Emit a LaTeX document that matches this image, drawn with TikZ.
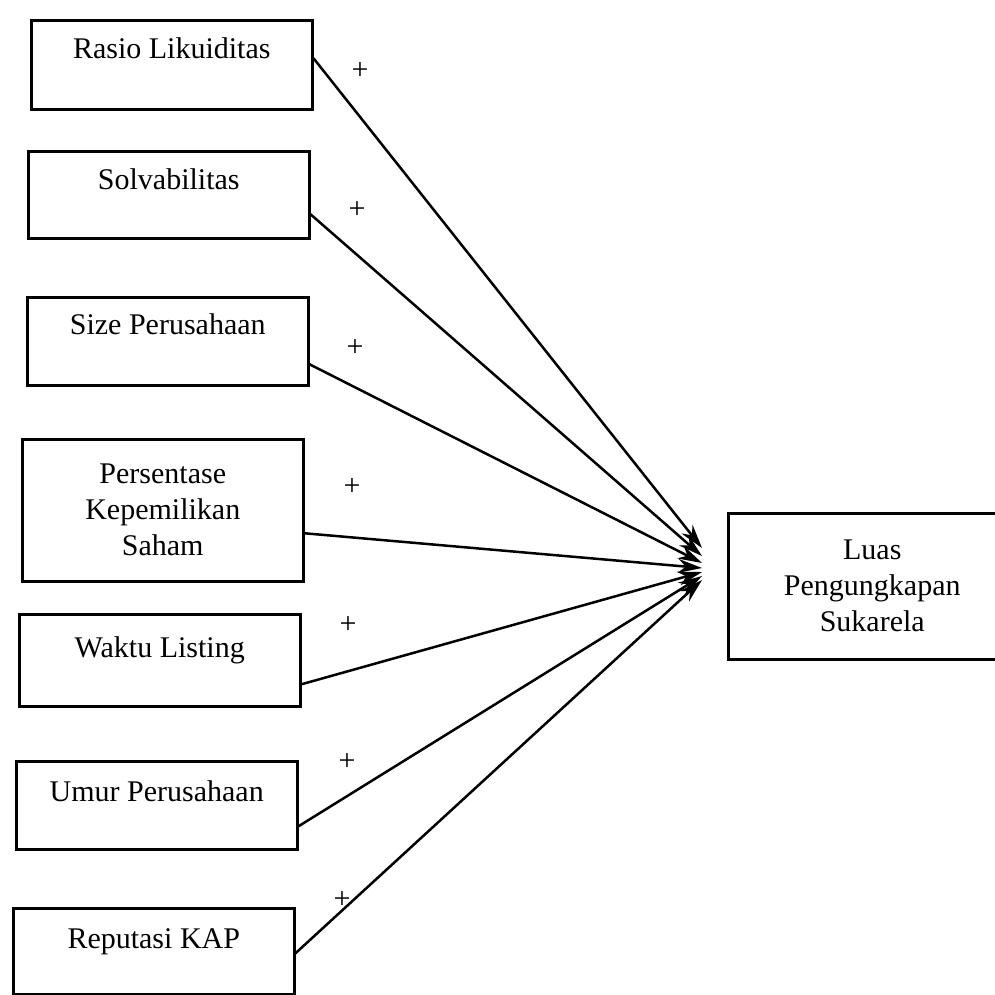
\documentclass[tikz,border=0pt]{standalone}
\usepackage{fontspec}
\setmainfont{Liberation Serif}
\usetikzlibrary{arrows.meta}

\begin{document}
\begin{tikzpicture}[x=1pt,y=-1pt,>={Stealth[length=24pt,width=14pt]},line width=2.5pt,
  var node/.style={draw,rectangle,inner sep=0pt,minimum width=281pt,anchor=north west,align=center,font=\fontsize{30}{36}\selectfont},
  top text/.style 2 args={text height=#1pt,text depth=#2pt},
  sign/.style={inner sep=0pt,font=\fontsize{30}{36}\selectfont}]

            \useasboundingbox (0,0) rectangle (995,994);

            \node[var node, top text={38}{51}] (1) at (30,19) {Rasio Likuiditas};
            \node[var node, top text={38}{49}] (2) at (27,150) {Solvabilitas};
            \node[var node, top text={37}{51}] (3) at (26,296) {Size Perusahaan};
            \node[var node, minimum height=142pt] (4) at (21,438) {Persentase\\Kepemilikan\\Saham};
            \node[var node, top text={43}{49}] (5) at (18,613) {Waktu Listing};
            \node[var node, top text={40}{48}] (6) at (15,760) {Umur Perusahaan};
            \node[var node, top text={40}{46}] (7) at (12,907) {Reputasi KAP};
            \node[var node, minimum width=288pt, minimum height=146pt] (8) at (727,512) {Luas\\Pengungkapan\\Sukarela};

            % arrow ends in front of (8)
            \foreach \i/\t in {1/548, 2/556, 3/563, 4/568, 5/572, 6/576, 7/580}
                \coordinate (t\i) at (702,\t);

            \foreach \i/\s in {1/6.5, 2/-19.5, 3/-23, 4/-23, 5/-24, 6/-21, 7/-2}
                \draw[->] ([yshift=\s pt]\i.east) -- (t\i);

            \node[sign] (p1) at (360,71) {+};
            \node[sign] (p2) at (357,210) {+};
            \node[sign] (p3) at (355,348) {+};
            \node[sign] (p4) at (352,487) {+};
            \node[sign] (p5) at (348,625) {+};
            \node[sign] (p6) at (347,762) {+};
            \node[sign] (p7) at (342,900) {+};

            ;
        \end{tikzpicture}
\end{document}
